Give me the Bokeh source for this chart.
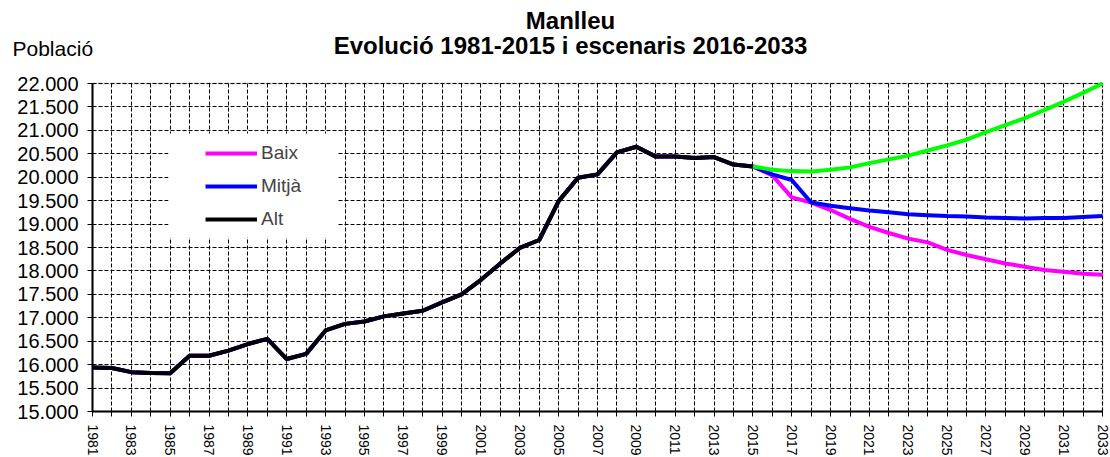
from bokeh.plotting import figure
from bokeh.models import (Label, Legend, LegendItem, FixedTicker, BoxAnnotation, Range1d)
from bokeh.embed import file_html
from bokeh.resources import INLINE

# ---- data ----
hist_years = list(range(1981, 2016))
hist_values = [15940, 15930, 15840, 15820, 15815, 16190, 16190, 16300, 16440, 16550,
               16120, 16230, 16730, 16870, 16920, 17030, 17090, 17150, 17330, 17500,
               17810, 18160, 18490, 18660, 19490, 19990, 20060, 20530, 20650, 20440,
               20440, 20410, 20430, 20270, 20230]

proj_years = list(range(2015, 2034))
baix = [20230, 20040, 19570, 19460, 19300, 19110, 18940, 18810, 18690, 18610,
        18450, 18340, 18250, 18160, 18090, 18020, 17980, 17940, 17920]
mitja = [20230, 20060, 19940, 19460, 19390, 19340, 19290, 19250, 19210, 19190,
         19170, 19160, 19140, 19130, 19120, 19130, 19130, 19150, 19170]
alt = [20230, 20160, 20130, 20120, 20160, 20210, 20300, 20380, 20460, 20570,
       20680, 20800, 20960, 21110, 21260, 21430, 21610, 21800, 22000]

y_ticks = list(range(15000, 22001, 500))
y_tick_labels = ["15.000", "15.500", "16.000", "16.500", "17.000", "17.500", "18.000",
                 "18.500", "19.000", "19.500", "20.000", "20.500", "21.000", "21.500", "22.000"]
x_ticks = list(range(1981, 2034))
x_tick_labels = [str(y) if (y - 1981) % 2 == 0 else "" for y in x_ticks]

title_lines = ["Manlleu", "Evolució 1981-2015 i escenaris 2016-2033"]
y_title = "Població"
legend_names = ["Baix", "Mitjà", "Alt"]

# ---- layout constants (pixels) ----
FONT = "Liberation Sans"
W, H = 1110, 457
PL, PR, PT, PB = 92, 1102, 83, 411      # plot area edges
X0, X1 = x_ticks[0], x_ticks[-1]
Y0, Y1 = y_ticks[0], y_ticks[-1]
xs = (X1 - X0) / (PR - PL)
ys = (Y1 - Y0) / (PB - PT)

p = figure(width=W, height=H, output_backend="svg", toolbar_location=None,
           x_range=Range1d(X0 - PL * xs, X1 + (W - PR) * xs),
           y_range=Range1d(Y0 - (H - PB) * ys, Y1 + PT * ys),
           min_border=0)
p.background_fill_color = "white"
p.border_fill_color = "white"
p.outline_line_color = None

# grids limited to the plot area
p.xgrid.ticker = FixedTicker(ticks=x_ticks)
p.ygrid.ticker = FixedTicker(ticks=y_ticks)
p.xgrid.bounds = (X0, X1)
p.ygrid.bounds = (Y0, Y1)
p.xgrid.cross_bounds = (Y0, Y1)
p.ygrid.cross_bounds = (X0, X1)
for g in (p.xgrid, p.ygrid):
    g.grid_line_color = "black"
    g.grid_line_dash = "4 2"
    g.grid_line_width = 1

# plot-area border (grey)
frame_box = BoxAnnotation(left=X0, right=X1, bottom=Y0, top=Y1, fill_alpha=0,
                          line_color="#8c8c8c", line_width=2, level="underlay")
p.center.insert(0, frame_box)

# axes fixed at the plot-area edges
xa = p.xaxis[0]
xa.fixed_location = Y0
xa.bounds = (X0, X1)
xa.ticker = FixedTicker(ticks=x_ticks)
xa.major_label_overrides = {t: l for t, l in zip(x_ticks, x_tick_labels)}
xa.major_label_orientation = "vertical"
xa.major_label_text_font = FONT
xa.major_label_text_font_size = "14px"
xa.major_label_text_color = "black"
xa.major_label_standoff = 8
xa.minor_tick_line_color = None
xa.major_tick_out = 5
xa.major_tick_in = 0
xa.axis_line_width = 2
xa.axis_line_color = "black"
xa.major_tick_line_color = "black"

ya = p.yaxis[0]
ya.fixed_location = X0
ya.bounds = (Y0, Y1)
ya.ticker = FixedTicker(ticks=y_ticks)
ya.major_label_overrides = {t: l for t, l in zip(y_ticks, y_tick_labels)}
ya.major_label_text_font = FONT
ya.major_label_text_font_size = "20px"
ya.major_label_text_color = "black"
ya.major_label_standoff = 9
ya.minor_tick_line_color = None
ya.major_tick_out = 5
ya.major_tick_in = 0
ya.axis_line_width = 2
ya.axis_line_color = "black"
ya.major_tick_line_color = "black"

# lines
r_baix = p.line(hist_years + proj_years[1:], hist_values + baix[1:], line_color="#ff00ff", line_width=4)
r_mitja = p.line(hist_years + proj_years[1:], hist_values + mitja[1:], line_color="#0000ff", line_width=4)
r_alt_proj = p.line(proj_years, alt, line_color="#00ff00", line_width=4)
r_hist = p.line(hist_years, hist_values, line_color="black", line_width=4)

# legend (white box + items)
box = BoxAnnotation(left=168, right=337, top=H - 133, bottom=H - 237,
                    left_units="screen", right_units="screen", top_units="screen", bottom_units="screen",
                    fill_color="white", fill_alpha=1.0, line_color=None)
p.add_layout(box)

legend = Legend(items=[LegendItem(label=legend_names[0], renderers=[r_baix]),
                       LegendItem(label=legend_names[1], renderers=[r_mitja]),
                       LegendItem(label=legend_names[2], renderers=[r_hist])],
                location=(205, H - 232), padding=0, margin=0, spacing=7,
                glyph_width=52, glyph_height=26, label_height=26, label_standoff=4,
                label_text_font=FONT, label_text_font_size="19px",
                background_fill_alpha=0, border_line_color=None)
p.add_layout(legend)

# titles
p.add_layout(Label(x=570, y=H - 20, x_units="screen", y_units="screen", text=title_lines[0],
                   text_align="center", text_baseline="alphabetic", text_font=FONT,
                   text_font_size="24px", text_font_style="bold", text_color="black"))
p.add_layout(Label(x=570, y=H - 45, x_units="screen", y_units="screen", text=title_lines[1],
                   text_align="center", text_baseline="alphabetic", text_font=FONT,
                   text_font_size="24px", text_font_style="bold", text_color="black"))
p.add_layout(Label(x=12, y=H - 48, x_units="screen", y_units="screen", text=y_title,
                   text_align="left", text_baseline="alphabetic", text_font=FONT,
                   text_font_size="21px", text_color="black"))

open("out.html", "w").write(file_html(p, INLINE))
